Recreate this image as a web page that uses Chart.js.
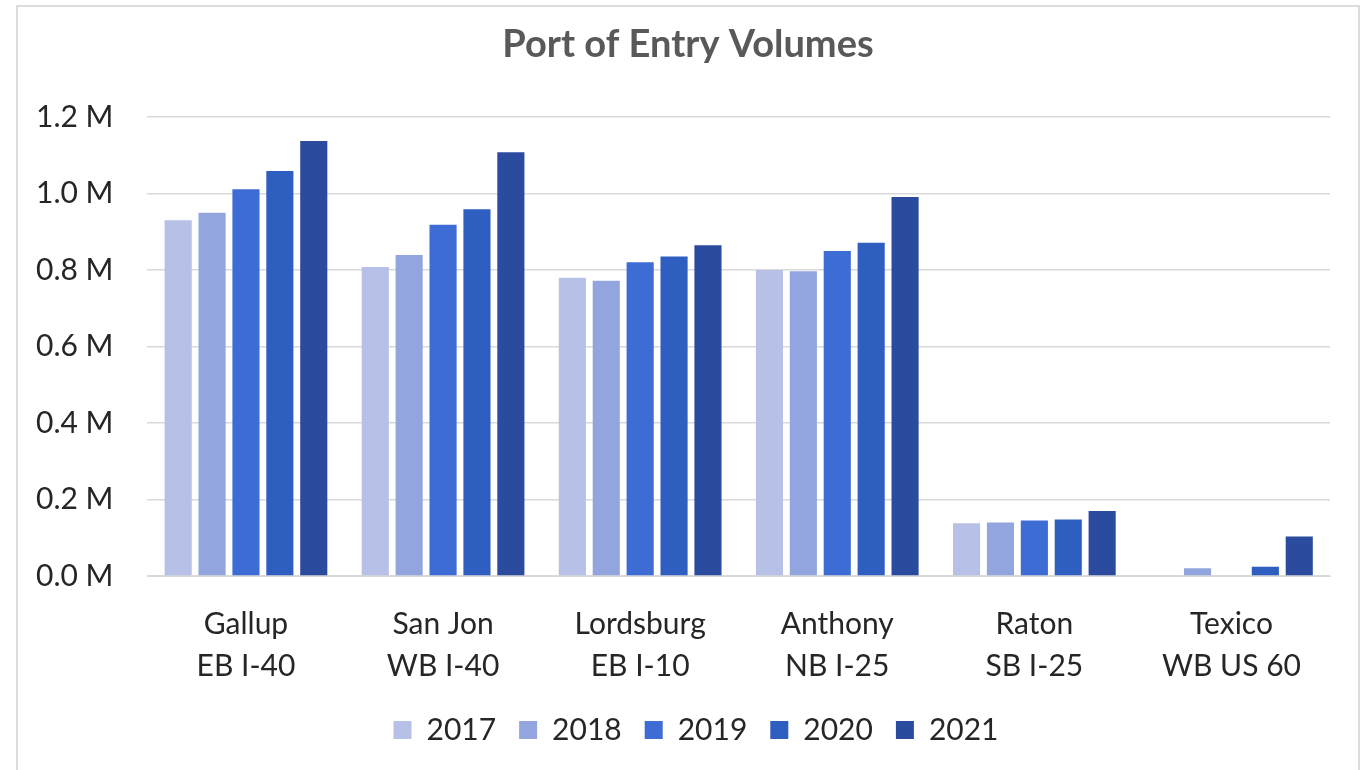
<!DOCTYPE html>
<html>
<head>
<meta charset="utf-8">
<title>Port of Entry Volumes</title>
<script src="https://cdn.jsdelivr.net/npm/chart.js@4/dist/chart.umd.min.js"></script>
<style>
  html, body { margin: 0; padding: 0; background: #fff; overflow: hidden; }
  .frame {
    position: absolute; left: 16px; top: 5px; width: 1344px; height: 800px;
    border: 2px solid #dcdcdc; box-sizing: border-box;
  }
  .wrap { position: absolute; left: 0; top: 0; width: 1368px; height: 770px; }
</style>
</head>
<body>
<div class="frame"></div>
<div class="wrap"><canvas id="chart"></canvas></div>
<script>
(function () {
  'use strict';

  // ── Data (millions of vehicles) ────────────────────────────────────────────
  var ports = [
    ['Gallup', 'EB I-40'],
    ['San Jon', 'WB I-40'],
    ['Lordsburg', 'EB I-10'],
    ['Anthony', 'NB I-25'],
    ['Raton', 'SB I-25'],
    ['Texico', 'WB US 60']
  ];
  var years = ['2017', '2018', '2019', '2020', '2021'];

  var vol2017 = [0.930, 0.808, 0.780, 0.800, 0.138, 0.000];
  var vol2018 = [0.950, 0.839, 0.772, 0.797, 0.140, 0.020];
  var vol2019 = [1.011, 0.918, 0.820, 0.850, 0.145, 0.000];
  var vol2020 = [1.059, 0.959, 0.835, 0.871, 0.148, 0.024];
  var vol2021 = [1.137, 1.108, 0.865, 0.991, 0.170, 0.103];

  var yTicks = [0, 0.2, 0.4, 0.6, 0.8, 1.0, 1.2];

  var COLORS = ['#b7c0e6', '#92a5df', '#3d6cd5', '#2f5ec1', '#2b4b9e'];
  var series = [vol2017, vol2018, vol2019, vol2020, vol2021];

  var FONT = 'Lato, "Open Sans", sans-serif';

  // nudge legend and title a bit, like the original layout
  var boxNudge = {
    id: 'boxNudge',
    afterLayout: function (chart) {
      var lg = chart.legend;
      if (lg) {
        lg.left += 30; lg.right += 30;
        lg.top -= 22; lg.bottom -= 22;
      }
      var tt = chart.titleBlock;
      if (tt) {
        tt.left += 22; tt.right += 22;
      }
    }
  };

  new Chart(document.getElementById('chart'), {
    type: 'bar',
    data: {
      labels: ports,
      datasets: series.map(function (vals, i) {
        return {
          label: years[i],
          data: vals,
          backgroundColor: COLORS[i],
          borderWidth: 0,
          categoryPercentage: 0.86,
          barPercentage: 0.8
        };
      })
    },
    plugins: [boxNudge],
    options: {
      responsive: true,
      maintainAspectRatio: false,
      animation: false,
      layout: { padding: { left: 2, right: 38, top: 0, bottom: -7 } },
      plugins: {
        title: {
          display: true,
          text: 'Port of Entry Volumes',
          color: '#595959',
          font: { family: FONT, size: 38, weight: 'bold' },
          padding: { top: 22, bottom: 49.4 }
        },
        legend: {
          position: 'bottom',
          labels: {
            color: '#262626',
            font: { family: FONT, size: 30 },
            boxWidth: 18,
            boxHeight: 18,
            padding: 23
          }
        },
        tooltip: { enabled: false }
      },
      scales: {
        x: {
          grid: { display: false, drawTicks: false },
          border: { display: true, color: '#d9d9d9' },
          ticks: {
            color: '#262626',
            font: { family: FONT, size: 30, lineHeight: 1.4 },
            padding: 27,
            maxRotation: 0,
            autoSkip: false
          }
        },
        y: {
          min: 0,
          max: 1.2,
          afterBuildTicks: function (axis) {
            axis.ticks = yTicks.map(function (v) { return { value: v }; });
          },
          grid: { color: '#d9d9d9', lineWidth: 1.5, drawTicks: false },
          border: { display: false },
          ticks: {
            color: '#262626',
            font: { family: FONT, size: 30 },
            padding: 34,
            callback: function (v) { return v.toFixed(1) + ' M'; }
          }
        }
      }
    }
  });
}());
</script>
</body>
</html>
